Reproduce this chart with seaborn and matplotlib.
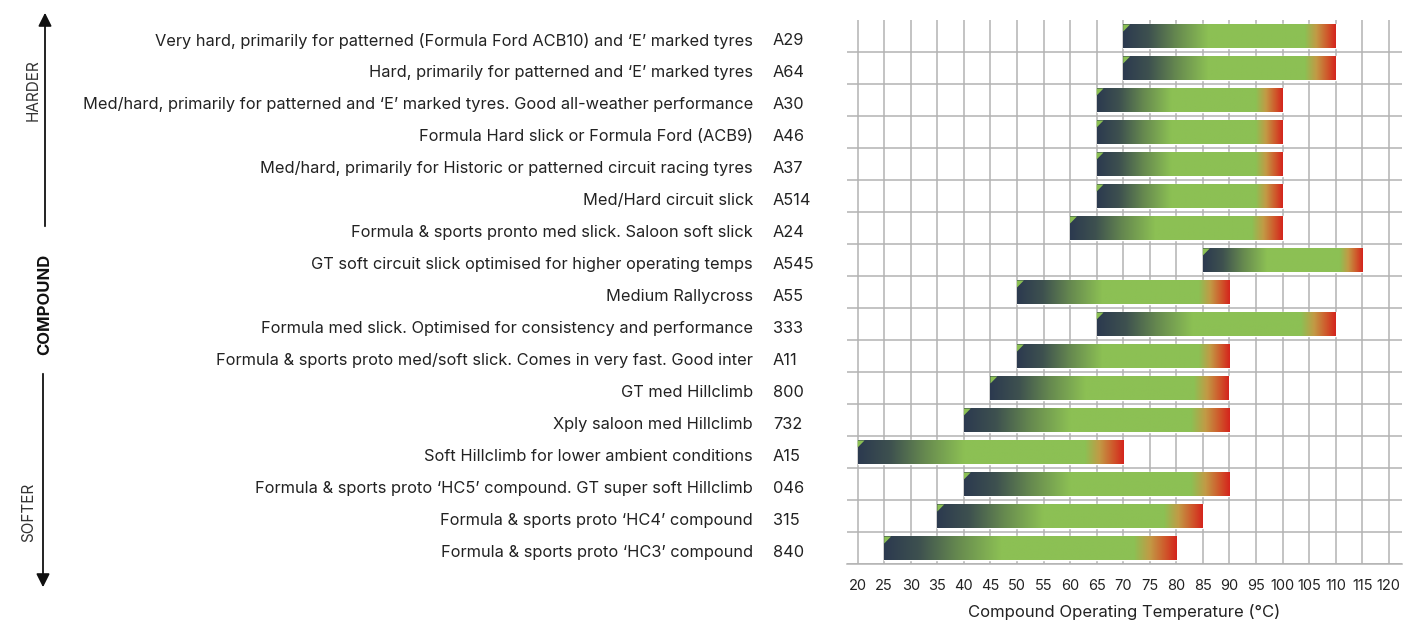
import numpy as np
import pandas as pd
import matplotlib
matplotlib.use("Agg")
import matplotlib.pyplot as plt
import matplotlib.transforms as mtransforms
from matplotlib.colors import LinearSegmentedColormap
from matplotlib.patches import Polygon
import seaborn as sns

sns.set_style("white")
plt.rcParams["font.family"] = ["Inter", "DejaVu Sans"]

# ============================================
# Data
# ============================================

descriptions = [
    "Very hard, primarily for patterned (Formula Ford ACB10) and \u2018E\u2019 marked tyres",
    "Hard, primarily for patterned and \u2018E\u2019 marked tyres",
    "Med/hard, primarily for patterned and \u2018E\u2019 marked tyres. Good all-weather performance",
    "Formula Hard slick or Formula Ford (ACB9)",
    "Med/hard, primarily for Historic or patterned circuit racing tyres",
    "Med/Hard circuit slick",
    "Formula & sports pronto med slick. Saloon soft slick",
    "GT soft circuit slick optimised for higher operating temps",
    "Medium Rallycross",
    "Formula med slick. Optimised for consistency and performance",
    "Formula & sports proto med/soft slick. Comes in very fast. Good inter",
    "GT med Hillclimb",
    "Xply saloon med Hillclimb",
    "Soft Hillclimb for lower ambient conditions",
    "Formula & sports proto \u2018HC5\u2019 compound. GT super soft Hillclimb",
    "Formula & sports proto \u2018HC4\u2019 compound",
    "Formula & sports proto \u2018HC3\u2019 compound",
]
codes = ["A29", "A64", "A30", "A46", "A37", "A514", "A24", "A545", "A55",
         "333", "A11", "800", "732", "A15", "046", "315", "840"]
temp_min = [70, 70, 65, 65, 65, 65, 60, 85, 50, 65, 50, 45, 40, 20, 40, 35, 25]
temp_max = [110, 110, 100, 100, 100, 100, 100, 115, 90, 110, 90, 90, 90, 70, 90, 85, 80]
temp_ticks = list(range(20, 125, 5))

df = pd.DataFrame({"code": codes, "description": descriptions,
                   "tmin": temp_min, "tmax": temp_max})

# ============================================
# Figure layout
# ============================================

W, H = 1420, 626
fig = plt.figure(figsize=(W / 100, H / 100), dpi=100)
ax_left, ax_right, ax_top, ax_bottom = 847, 1402, 20, 564
ax = fig.add_axes([ax_left / W, 1 - ax_bottom / H,
                   (ax_right - ax_left) / W, (ax_bottom - ax_top) / H])

bar_h = 0.72
green = "#8cc054"
sns.barplot(data=df, x="tmax", y="code", order=codes, orient="h",
            width=bar_h, color=green, errorbar=None, ax=ax, zorder=3)

# gradient: navy -> green -> red
grad_cmap = LinearSegmentedColormap.from_list("compound", [
    (0.00, "#2c3a4f"),
    (0.12, "#3e5150"),
    (0.25, "#66894f"),
    (0.40, green),
    (0.855, green),
    (0.91, "#c29a45"),
    (0.96, "#cf5a2c"),
    (1.00, "#d4261d"),
])
grad = np.linspace(0, 1, 256).reshape(1, -1)

for i, (patch, lo, hi) in enumerate(zip(ax.patches, temp_min, temp_max)):
    patch.set_x(lo)
    patch.set_width(hi - lo)
    y0 = i - bar_h / 2
    y1 = i + bar_h / 2
    ax.imshow(grad, cmap=grad_cmap, aspect="auto", extent=(lo, hi, y1, y0),
              interpolation="bilinear", zorder=4)
    ax.add_patch(Polygon([(lo, y0), (lo + 1.3, y0), (lo, y0 + 0.22)],
                         closed=True, color=green, lw=0, zorder=5))

ax.set_xlim(18, 122.5)
ax.set_ylim(len(codes) - 0.5, -0.5)

# grid
ax.set_xticks(temp_ticks)
ax.set_xticklabels([str(t) for t in temp_ticks])
ax.set_yticks(np.arange(0.5, len(codes)), minor=True)
ax.set_yticks([])
ax.grid(True, axis="x", color="#b3b3b3", lw=1.1, zorder=0)
ax.grid(True, axis="y", which="minor", color="#b3b3b3", lw=1.1, zorder=0)
ax.set_axisbelow(True)
for s in ["top", "right", "left"]:
    ax.spines[s].set_visible(False)
ax.spines["bottom"].set_color("#b3b3b3")
ax.spines["bottom"].set_linewidth(1.1)
ax.tick_params(axis="x", which="major", length=5, width=1.1, color="#b3b3b3",
               pad=6, labelsize=10.5, labelcolor="#222222")
ax.tick_params(axis="y", which="both", length=0)
ax.set_ylabel("")
ax.set_xlabel("Compound Operating Temperature (\u00b0C)", fontsize=12,
              color="#222222", labelpad=8)

# left-hand labels
trans = mtransforms.blended_transform_factory(ax.transAxes, ax.transData)
ax_w = ax_right - ax_left
desc_x = (753 - ax_left) / ax_w
code_x = (773 - ax_left) / ax_w
for i, (desc, code) in enumerate(zip(descriptions, codes)):
    ax.text(desc_x, i + 0.1, desc, transform=trans, ha="right",
            va="center_baseline", fontsize=11.8, color="#222222")
    ax.text(code_x, i + 0.1, code, transform=trans, ha="left",
            va="center_baseline", fontsize=11.8, color="#222222")

# harder / softer arrow
oax = fig.add_axes([0, 0, 1, 1])
oax.set_xlim(0, W)
oax.set_ylim(H, 0)
oax.axis("off")
oax.annotate("", xy=(45, 10), xytext=(45, 229),
             arrowprops=dict(arrowstyle="-|>", color="#111111", lw=1.3,
                             mutation_scale=20))
oax.annotate("", xy=(43, 590), xytext=(43, 371),
             arrowprops=dict(arrowstyle="-|>", color="#111111", lw=1.3,
                             mutation_scale=20))
oax.text(33, 90, "HARDER", rotation=90, ha="center", va="center",
         fontsize=11, color="#333333")
oax.text(45, 304, "COMPOUND", rotation=90, ha="center", va="center",
         fontsize=12, fontweight="bold", color="#111111")
oax.text(29, 512, "SOFTER", rotation=90, ha="center", va="center",
         fontsize=11, color="#333333")

fig.savefig("out.png", dpi=100)
